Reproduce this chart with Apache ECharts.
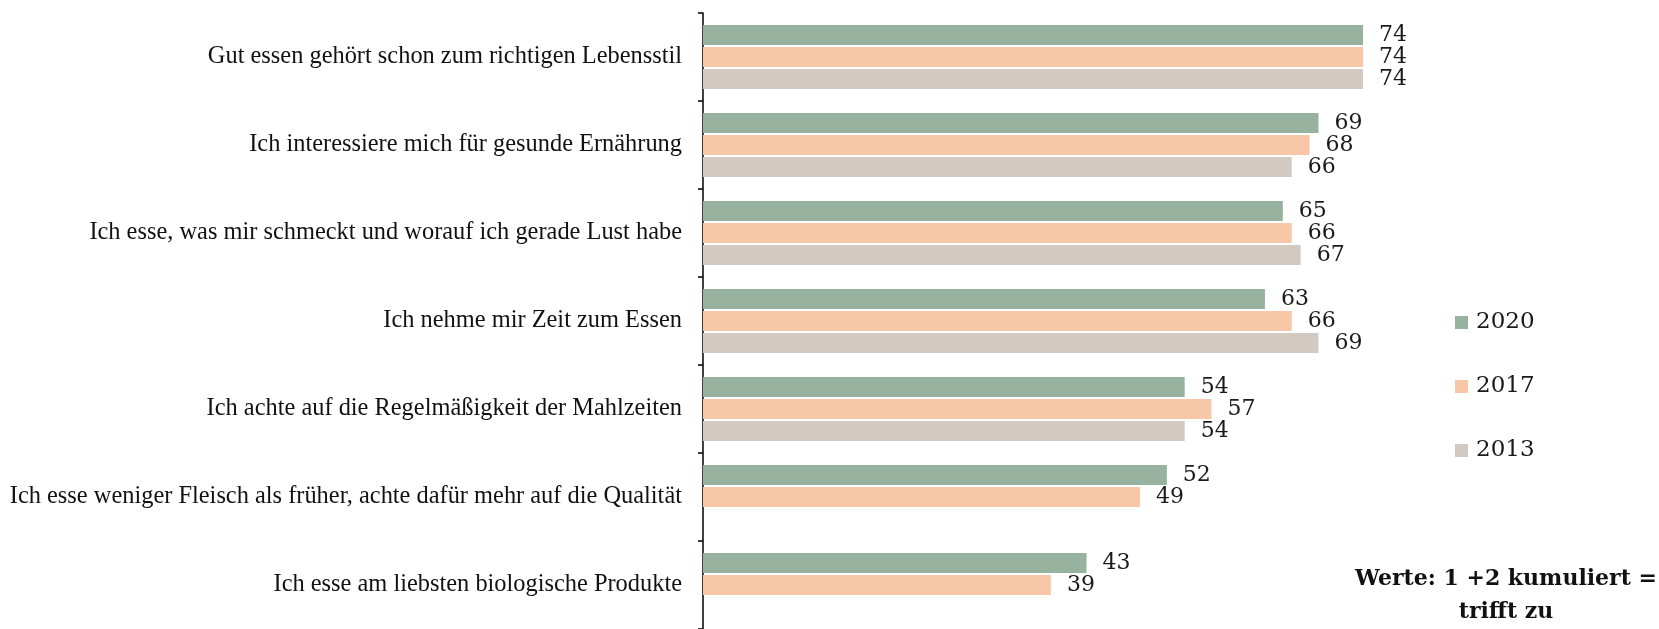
<!DOCTYPE html>
<html>
<head>
<meta charset="utf-8">
<script src="https://cdn.jsdelivr.net/npm/echarts@6/dist/echarts.min.js"></script>
<style>
html,body{margin:0;padding:0;background:#fff;}
#chart{width:1659px;height:629px;}
</style>
</head>
<body>
<div id="chart"></div>
<script>
const categories = [
  "Gut essen gehört schon zum richtigen Lebensstil",
  "Ich interessiere mich für gesunde Ernährung",
  "Ich esse, was mir schmeckt und worauf ich gerade Lust habe",
  "Ich nehme mir Zeit zum Essen",
  "Ich achte auf die Regelmäßigkeit der Mahlzeiten",
  "Ich esse weniger Fleisch als früher, achte dafür mehr auf die Qualität",
  "Ich esse am liebsten biologische Produkte"
];
const seriesNames = ["2020", "2017", "2013"];
const values2020 = [74, 69, 65, 63, 54, 52, 43];
const values2017 = [74, 68, 66, 66, 57, 49, 39];
const values2013 = [74, 66, 67, 69, 54, null, null];
const colors = ["#97B29E", "#F8C7A8", "#D2C9C0"];
const noteText = "Werte: 1 +2 kumuliert =\ntrifft zu";

const chart = echarts.init(document.getElementById('chart'), null, {renderer: 'canvas'});
const allValues = [values2020, values2017, values2013];
const series = seriesNames.map((name, i) => ({
  name: name,
  type: 'bar',
  data: allValues[i],
  barWidth: 20,
  barGap: '10%',
  itemStyle: {color: colors[i]},
  label: {
    show: true,
    position: 'right',
    distance: 16,
    color: '#1a1a1a',
    fontFamily: 'DejaVu Serif',
    fontSize: 22
  },
  emphasis: {disabled: true}
}));

chart.setOption({
  animation: false,
  backgroundColor: '#ffffff',
  grid: {left: 703, top: 13, width: 892, height: 622},
  xAxis: {
    type: 'value', min: 0, max: 100, show: false
  },
  yAxis: {
    type: 'category',
    data: categories,
    inverse: true,
    axisLine: {show: true, lineStyle: {color: '#000', width: 1.5}},
    axisTick: {show: true, length: 5, lineStyle: {color: '#000', width: 1.5}},
    axisLabel: {
      margin: 21,
      color: '#111',
      fontFamily: 'Liberation Serif',
      fontSize: 24.4
    },
    splitLine: {show: false}
  },
  legend: {
    orient: 'vertical',
    left: 1455,
    top: 311,
    padding: 0,
    itemWidth: 13,
    itemHeight: 13,
    itemGap: 41,
    icon: 'rect',
    textStyle: {fontFamily: 'DejaVu Serif', fontSize: 23, color: '#1a1a1a', lineHeight: 23, padding: [0,0,0,3]},
    data: seriesNames
  },
  graphic: [{
    type: 'text',
    x: 1506,
    y: 563,
    style: {
      text: noteText,
      textAlign: 'center',
      fill: '#111',
      font: 'bold 22px "DejaVu Serif"',
      lineHeight: 33
    }
  }],
  series: series
});
</script>
</body>
</html>
